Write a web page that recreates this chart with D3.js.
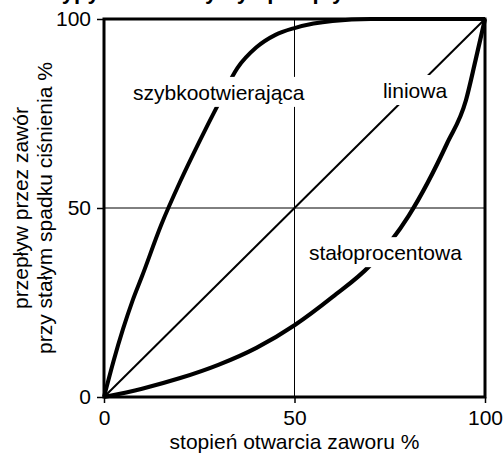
<!DOCTYPE html>
<html><head><meta charset="utf-8">
<script src="https://cdn.jsdelivr.net/npm/d3@7"></script>
<style>
body{margin:0;background:#fff}
text{font-family:"Liberation Sans",Arial,Helvetica,sans-serif;fill:#000}
</style>
</head><body>
<svg id="chart" width="504" height="455"></svg>
<script>
// ---- data ----
const titleText = "Typy charakterystyk przepływu zaworów";
const xTicks = [0, 50, 100];
const yTicks = [0, 50, 100];
const xTitle = "stopień otwarcia zaworu %";
const yTitle = ["przepływ przez zawór", "przy stałym spadku ciśnienia %"];

const seriesNames = ["szybkootwierająca", "liniowa", "stałoprocentowa"];

const fastX = [0, 2.5, 5, 7.5, 10, 15, 20, 25, 30, 35, 40, 45, 50, 55, 60, 70, 80, 100];
const fastY = [0, 9.5, 18, 25.5, 32, 45.5, 57, 67.5, 77.5, 87, 92.5, 95.8, 97.6, 98.8, 99.5, 100, 100, 100];

const linX = [0, 100];
const linY = [0, 100];

const eqX = [0, 10, 20, 30, 40, 50, 60, 70, 80, 90, 95, 97.5, 100];
const eqY = [0, 2.2, 5, 8.5, 13, 19, 26.5, 35, 48, 67, 78.5, 89, 100];

// label anchors (data units: start x, baseline y)
const labelX = [7.6, 73.2, 53.8];
const labelY = [78.6, 79.1, 36.2];

// ---- chart ----
const L = 104, R = 485, T = 19, B = 397;
const svg = d3.select("#chart");
const x = d3.scaleLinear().domain([0, 100]).range([L, R]);
const y = d3.scaleLinear().domain([0, 100]).range([B, T]);

// title (cropped at top, as in the reference)
svg.append("text").attr("x", 262).attr("y", -1)
  .attr("text-anchor", "middle").attr("font-size", 22).attr("font-weight", "bold")
  .text(titleText);

// grid lines at 50
svg.append("line").attr("x1", x(50)).attr("x2", x(50)).attr("y1", y(0)).attr("y2", y(100))
  .attr("stroke", "#000").attr("stroke-width", 1);
svg.append("line").attr("x1", x(0)).attr("x2", x(100)).attr("y1", y(50)).attr("y2", y(50))
  .attr("stroke", "#000").attr("stroke-width", 1);

// curves
const line = d3.line().x(d => x(d[0])).y(d => y(d[1])).curve(d3.curveMonotoneX);
const series = [
  {pts: d3.zip(fastX, fastY), w: 4},
  {pts: d3.zip(linX, linY), w: 2},
  {pts: d3.zip(eqX, eqY), w: 4.2}
];
svg.selectAll("path.curve").data(series).enter().append("path")
  .attr("class", "curve")
  .attr("d", d => line(d.pts))
  .attr("fill", "none").attr("stroke", "#000")
  .attr("stroke-width", d => d.w).attr("stroke-linejoin", "round");

// labels with white background
seriesNames.forEach((name, i) => {
  const g = svg.append("g");
  const t = g.append("text").attr("x", x(labelX[i])).attr("y", y(labelY[i]))
    .attr("font-size", 21).text(name);
  const bb = t.node().getBBox();
  g.insert("rect", "text")
    .attr("x", bb.x - 3).attr("y", bb.y - 4)
    .attr("width", bb.width + 6).attr("height", bb.height + 7)
    .attr("fill", "#fff");
});

// frame
svg.append("rect").attr("x", L).attr("y", T).attr("width", R - L).attr("height", B - T)
  .attr("fill", "none").attr("stroke", "#000").attr("stroke-width", 3);

// axes
const ax = svg.append("g").attr("transform", `translate(0,${B})`)
  .call(d3.axisBottom(x).tickValues(xTicks).tickSize(6).tickPadding(7).tickFormat(d3.format("d")));
const ay = svg.append("g").attr("transform", `translate(${L},0)`)
  .call(d3.axisLeft(y).tickValues(yTicks).tickSize(7).tickPadding(6).tickFormat(d3.format("d")));
[ax, ay].forEach(a => {
  a.select(".domain").remove();
  a.selectAll(".tick line").attr("stroke", "#000").attr("stroke-width", 1.5);
  a.selectAll(".tick text").attr("font-size", 21).attr("font-family", '"Liberation Sans",Arial,sans-serif').attr("fill", "#000");
});

// axis titles
svg.append("text").attr("x", (L + R) / 2).attr("y", 449)
  .attr("text-anchor", "middle").attr("font-size", 21).text(xTitle);
const yc = (T + B) / 2;
yTitle.forEach((s, i) => {
  const bx = 28 + i * 23.5;
  svg.append("text").attr("transform", `translate(${bx},${yc}) rotate(-90)`)
    .attr("text-anchor", "middle").attr("font-size", 21).text(s);
});
</script>
</body></html>
